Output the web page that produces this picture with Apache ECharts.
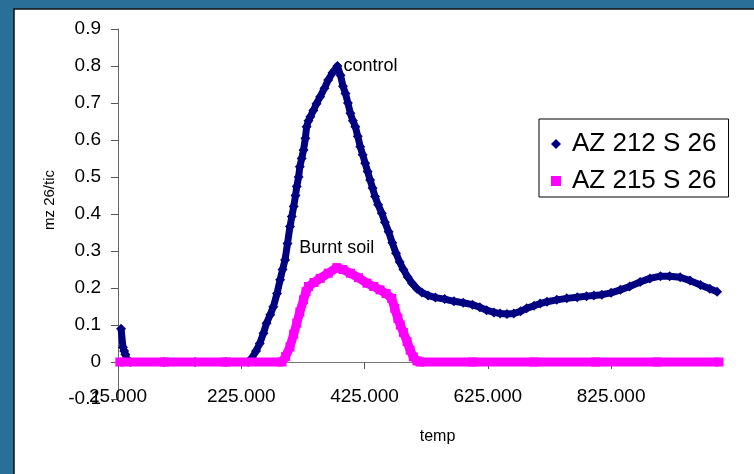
<!DOCTYPE html>
<html>
<head>
<meta charset="utf-8">
<script src="https://cdn.jsdelivr.net/npm/echarts@6/dist/echarts.min.js"></script>
<style>
html,body{margin:0;padding:0;background:#2a6f97;}
#c{width:754px;height:474px;}
</style>
</head>
<body>
<div id="c"></div>
<script>
// Series names
const seriesNames = ['AZ 212 S 26', 'AZ 215 S 26'];
// AZ 212 S 26 (control)
const ctrlTemp = [30,33,35,37,40,45,100,150,200,236,242,249,255,261,266,272,277,283,288,292,296,300,304,307,310,313,315,318,320,323,326,329,331,334,337,342,347,353,360,366,373,381,386,390,394,398,402,406,410,414,418,422,426,430,434,438,442,447,453,458,464,470,476,482,488,495,502,510,518,528,540,555,570,585,600,612,623,635,645,656,667,678,688,700,710,721,737,753,770,785,797,810,825,840,855,872,888,905,920,937,953,970,985,997];
const ctrlVal = [0.09,0.04,0.03,0.02,0.005,0,0,0,0,0,0.01,0.03,0.05,0.078,0.105,0.128,0.149,0.185,0.222,0.25,0.276,0.32,0.366,0.393,0.42,0.45,0.474,0.5,0.528,0.55,0.573,0.605,0.636,0.652,0.663,0.68,0.698,0.717,0.74,0.762,0.782,0.80,0.775,0.745,0.726,0.70,0.672,0.652,0.636,0.61,0.582,0.56,0.537,0.515,0.492,0.47,0.447,0.425,0.402,0.378,0.352,0.322,0.294,0.27,0.25,0.23,0.213,0.198,0.188,0.18,0.174,0.17,0.164,0.16,0.155,0.148,0.14,0.134,0.131,0.13,0.131,0.137,0.145,0.152,0.158,0.163,0.168,0.172,0.175,0.178,0.18,0.182,0.187,0.195,0.204,0.216,0.226,0.232,0.232,0.229,0.22,0.208,0.198,0.19];
// AZ 215 S 26 (burnt soil)
const burntTemp = [28,100,200,291,297,304,310,315,320,326,330,334,343,353,366,380,390,402,415,429,440,450,460,469,474,479,483,488,494,499,504,510,515,600,700,800,900,1000];
const burntVal = [0,0,0,0,0.015,0.041,0.075,0.105,0.135,0.168,0.19,0.204,0.215,0.226,0.24,0.255,0.25,0.24,0.228,0.213,0.204,0.195,0.185,0.172,0.145,0.118,0.1,0.08,0.055,0.032,0.014,0.003,0,0,0,0,0,0];
// Annotations
const annotations = ['control', 'Burnt soil'];
// Axis settings
const xMin = 25, xMax = 1000, xStep = 200;
const yMin = -0.1, yMax = 0.9, yStep = 0.1;
const xTitle = 'temp', yTitle = 'mz 26/tic';

function build(temps, vals, labelText, labelOpt) {
  let peak = 0;
  vals.forEach((v, i) => { if (v > vals[peak]) peak = i; });
  return temps.map((t, i) => {
    if (i === peak) {
      return { value: [t, vals[i]], label: Object.assign({ show: true, formatter: labelText }, labelOpt) };
    }
    return [t, vals[i]];
  });
}

const font = 'Liberation Sans, Arial, sans-serif';
const chart = echarts.init(document.getElementById('c'), null, { renderer: 'canvas' });
chart.setOption({
  animation: false,
  backgroundColor: '#2a6f97',
  graphic: [{
    type: 'rect', z: -10, silent: true,
    shape: { x: 14, y: 9, width: 760, height: 480 },
    style: { fill: '#ffffff', stroke: '#111111', lineWidth: 1.5 }
  }],
  grid: { left: 118, right: 35, top: 29, bottom: 75, containLabel: false, outerBoundsMode: 'none' },
  legend: {
    orient: 'vertical', left: 539, top: 119,
    padding: [12, 12, 3, 12],
    borderColor: '#000', borderWidth: 1, backgroundColor: '#fff',
    itemWidth: 10, itemHeight: 10, itemGap: 11,
    textStyle: { fontFamily: font, fontSize: 26, color: '#000', padding: [0, 0, 0, 6] },
    data: [{ name: seriesNames[0], icon: 'diamond' }, { name: seriesNames[1], icon: 'rect' }]
  },
  xAxis: {
    type: 'value', min: xMin, max: xMax, interval: xStep,
    name: xTitle, nameLocation: 'middle', nameGap: 30, nameMoveOverlap: false,
    nameTextStyle: { fontFamily: font, fontSize: 16, color: '#000', padding: [0, 0, 0, 38] },
    axisLine: { onZero: true, lineStyle: { color: '#777', width: 1 } },
    axisTick: { show: true, inside: false, length: 7, lineStyle: { color: '#555' } },
    axisLabel: { fontFamily: font, fontSize: 19, color: '#000', margin: -12, showMaxLabel: false,
      formatter: v => v.toFixed(3) },
    splitLine: { show: false }
  },
  yAxis: {
    type: 'value', min: yMin, max: yMax, interval: yStep,
    name: yTitle, nameLocation: 'middle', nameGap: 61,
    nameTextStyle: { fontFamily: font, fontSize: 15, color: '#000', padding: [0, 0, 0, 28] },
    axisLine: { show: true, onZero: false, lineStyle: { color: '#666', width: 1 } },
    axisTick: { show: true, inside: false, length: 7, lineStyle: { color: '#555' } },
    axisLabel: { fontFamily: font, fontSize: 19, color: '#000', margin: 17,
      formatter: v => String(Math.round(v * 10) / 10) },
    splitLine: { show: false }
  },
  series: [
    {
      name: seriesNames[0], type: 'line', z: 3,
      data: build(ctrlTemp, ctrlVal, annotations[0],
        { position: 'right', distance: 1, fontFamily: font, fontSize: 18, color: '#000' }),
      symbol: 'diamond', symbolSize: 10, showSymbol: true, showAllSymbol: true,
      itemStyle: { color: '#000080' },
      lineStyle: { color: '#000080', width: 7, join: 'round' },
      emphasis: { disabled: true }
    },
    {
      name: seriesNames[1], type: 'line', z: 4,
      data: build(burntTemp, burntVal, annotations[1],
        { position: 'top', distance: 6, fontFamily: font, fontSize: 18, color: '#000' }),
      symbol: 'rect', symbolSize: 9, showSymbol: true, showAllSymbol: true,
      itemStyle: { color: '#ff00ff' },
      lineStyle: { color: '#ff00ff', width: 9, join: 'round' },
      emphasis: { disabled: true }
    }
  ]
});
</script>
</body>
</html>
